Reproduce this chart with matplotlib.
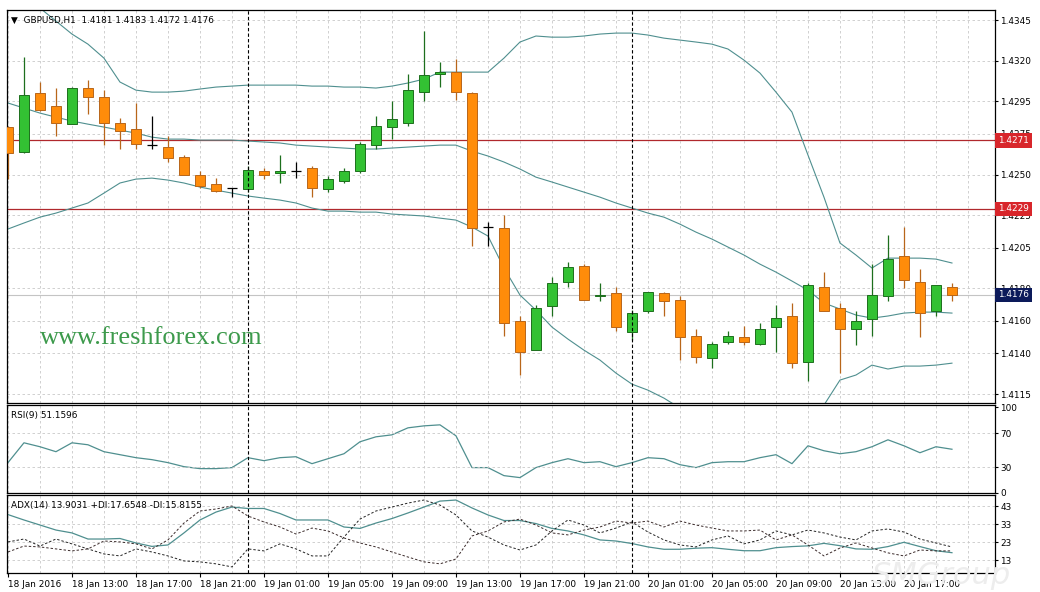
import matplotlib.pyplot as plt
from matplotlib.transforms import blended_transform_factory


# GBPUSD H1, 18 Jan 2016 09:00 .. 20 Jan 2016 20:00
opens = [1.4279, 1.4264, 1.4300, 1.4292, 1.4281, 1.4303, 1.4298, 1.4282, 1.4278, 1.4268,
         1.4267, 1.4261, 1.4250, 1.4244, 1.4242, 1.4241, 1.4252, 1.4251, 1.4252, 1.4254,
         1.4241, 1.4246, 1.4252, 1.4268, 1.4279, 1.4282, 1.4301, 1.4312, 1.4313, 1.4300,
         1.4218, 1.4217, 1.4160, 1.4142, 1.4169, 1.4184, 1.4194, 1.4175, 1.4177, 1.4153,
         1.4166, 1.4177, 1.4173, 1.4151, 1.4137, 1.4147, 1.4150, 1.4146, 1.4156, 1.4163,
         1.4135, 1.4181, 1.4168, 1.4155, 1.4161, 1.4175, 1.4200, 1.4184, 1.4166, 1.4181]
highs = [1.4280, 1.4322, 1.4307, 1.4303, 1.4304, 1.4308, 1.4302, 1.4285, 1.4294, 1.4286,
         1.4274, 1.4262, 1.4252, 1.4248, 1.4242, 1.4255, 1.4254, 1.4262, 1.4258, 1.4255,
         1.4249, 1.4254, 1.4270, 1.4286, 1.4295, 1.4312, 1.4338, 1.4319, 1.4321, 1.4301,
         1.4221, 1.4225, 1.4163, 1.4170, 1.4187, 1.4196, 1.4195, 1.4183, 1.4181, 1.4167,
         1.4178, 1.4178, 1.4175, 1.4155, 1.4147, 1.4154, 1.4157, 1.4159, 1.4170, 1.4171,
         1.4183, 1.4190, 1.4171, 1.4166, 1.4195, 1.4213, 1.4218, 1.4192, 1.4182, 1.4183]
lows = [1.4247, 1.4263, 1.4289, 1.4274, 1.4281, 1.4287, 1.4268, 1.4266, 1.4266, 1.4266,
        1.4258, 1.4250, 1.4242, 1.4239, 1.4236, 1.4239, 1.4247, 1.4245, 1.4248, 1.4236,
        1.4239, 1.4245, 1.4251, 1.4266, 1.4272, 1.4280, 1.4295, 1.4304, 1.4296, 1.4206,
        1.4206, 1.4151, 1.4127, 1.4142, 1.4163, 1.4181, 1.4173, 1.4172, 1.4154, 1.4148,
        1.4165, 1.4163, 1.4136, 1.4134, 1.4131, 1.4146, 1.4145, 1.4145, 1.4141, 1.4131,
        1.4123, 1.4166, 1.4128, 1.4145, 1.4151, 1.4172, 1.4180, 1.4150, 1.4163, 1.4172]
closes = [1.4263, 1.4299, 1.4290, 1.4282, 1.4303, 1.4298, 1.4282, 1.4277, 1.4269, 1.4268,
          1.4260, 1.4250, 1.4243, 1.4240, 1.4242, 1.4253, 1.4250, 1.4252, 1.4252, 1.4242,
          1.4247, 1.4252, 1.4269, 1.4280, 1.4284, 1.4302, 1.4311, 1.4313, 1.4301, 1.4217,
          1.4218, 1.4159, 1.4141, 1.4168, 1.4183, 1.4193, 1.4173, 1.4176, 1.4156, 1.4165,
          1.4178, 1.4172, 1.4150, 1.4138, 1.4146, 1.4151, 1.4147, 1.4155, 1.4162, 1.4134,
          1.4182, 1.4166, 1.4155, 1.4160, 1.4176, 1.4198, 1.4185, 1.4165, 1.4182, 1.4176]

# Bollinger bands
bb_upper = [1.43684, 1.43604, 1.43524, 1.43444, 1.43364, 1.43302, 1.43216, 1.43069, 1.43019, 1.43007,
            1.43007, 1.43013, 1.43026, 1.43038, 1.43044, 1.43050, 1.43050, 1.43050, 1.43050, 1.43044,
            1.43044, 1.43038, 1.43038, 1.43032, 1.43044, 1.43063, 1.43087, 1.43130, 1.43130, 1.43130,
            1.43130, 1.43216, 1.43315, 1.43352, 1.43345, 1.43345, 1.43352, 1.43364, 1.43370, 1.43370,
            1.43358, 1.43339, 1.43327, 1.43315, 1.43302, 1.43272, 1.43204, 1.43124, 1.43007, 1.42884,
            1.42620, 1.42361, 1.42079, 1.42005, 1.41925, 1.41986, 1.41986, 1.41986, 1.41980, 1.41956]
bb_middle = [1.42940, 1.42909, 1.42878, 1.42853, 1.42829, 1.42810, 1.42792, 1.42773, 1.42755, 1.42730,
             1.42718, 1.42718, 1.42712, 1.42712, 1.42712, 1.42706, 1.42700, 1.42694, 1.42681, 1.42675,
             1.42669, 1.42663, 1.42657, 1.42657, 1.42663, 1.42669, 1.42675, 1.42681, 1.42681, 1.42644,
             1.42614, 1.42577, 1.42534, 1.42484, 1.42454, 1.42423, 1.42392, 1.42361, 1.42325, 1.42294,
             1.42263, 1.42238, 1.42195, 1.42146, 1.42103, 1.42054, 1.42005, 1.41949, 1.41900, 1.41845,
             1.41789, 1.41710, 1.41673, 1.41636, 1.41617, 1.41630, 1.41648, 1.41654, 1.41654, 1.41648]
bb_lower = [1.42165, 1.42202, 1.42238, 1.42263, 1.42294, 1.42325, 1.42386, 1.42448, 1.42472, 1.42478,
            1.42466, 1.42448, 1.42423, 1.42404, 1.42386, 1.42368, 1.42355, 1.42343, 1.42325, 1.42294,
            1.42275, 1.42275, 1.42269, 1.42269, 1.42257, 1.42251, 1.42245, 1.42232, 1.42220, 1.42177,
            1.42122, 1.41925, 1.41759, 1.41666, 1.41562, 1.41488, 1.41420, 1.41359, 1.41279, 1.41211,
            1.41174, 1.41125, 1.41064, 1.41002, 1.40928, 1.40867, 1.40805, 1.40756, 1.40732, 1.40744,
            1.40805, 1.41082, 1.41236, 1.41267, 1.41328, 1.41304, 1.41322, 1.41322, 1.41328, 1.41340]

rsi = [35.5, 58.7, 54.1, 48.3, 58.7, 56.4, 48.3, 44.8, 41.3, 39.0,
       35.5, 30.8, 28.5, 28.5, 29.7, 41.3, 37.8, 41.3, 42.4, 34.3,
       40.1, 45.9, 59.9, 65.7, 68.0, 76.2, 78.5, 79.7, 66.9, 29.7,
       29.7, 20.3, 18.0, 29.7, 35.5, 40.1, 35.5, 36.6, 30.8, 35.5,
       41.3, 40.1, 33.1, 29.7, 35.5, 36.6, 36.6, 41.3, 44.8, 34.3,
       55.2, 49.4, 45.9, 48.3, 54.1, 62.2, 55.2, 47.1, 54.1, 51.16]

adx = [38.4, 35.4, 32.6, 29.8, 28.2, 24.8, 24.8, 25.1, 22.6, 20.7,
       21.5, 28.2, 35.4, 39.8, 42.6, 41.8, 41.8, 39.0, 35.4, 35.4,
       35.4, 31.5, 30.7, 33.7, 36.2, 39.3, 42.6, 45.9, 46.5, 42.1,
       38.2, 35.1, 35.1, 33.4, 30.7, 29.3, 27.1, 24.3, 23.7, 22.3,
       20.4, 19.1, 19.1, 19.7, 20.0, 19.1, 18.3, 18.3, 20.0, 20.6,
       21.0, 22.4, 21.1, 19.3, 19.1, 20.6, 23.0, 20.6, 18.3, 17.2]
plus_di = [23.2, 24.8, 20.9, 24.8, 22.1, 19.3, 16.5, 15.4, 19.3, 17.6,
           15.4, 12.6, 12.1, 11.0, 9.3, 19.3, 18.2, 22.1, 19.3, 15.4,
           15.4, 25.9, 35.9, 40.4, 42.6, 44.8, 46.5, 43.7, 38.2, 29.3,
           25.9, 21.5, 18.7, 21.5, 29.3, 35.4, 32.6, 28.2, 30.9, 34.3,
           28.7, 24.3, 21.5, 20.4, 24.3, 26.5, 22.1, 24.3, 29.3, 27.1,
           29.8, 28.2, 25.9, 24.3, 29.3, 30.4, 28.7, 24.8, 22.6, 20.4]
minus_di = [17.6, 20.9, 20.4, 19.3, 18.2, 19.3, 23.7, 23.2, 22.1, 19.3,
            24.3, 33.7, 40.4, 41.5, 43.2, 37.6, 34.3, 31.5, 27.6, 30.9,
            29.3, 25.4, 22.6, 20.4, 17.6, 14.8, 12.1, 11.0, 13.7, 26.5,
            29.3, 34.3, 35.9, 32.6, 28.2, 27.1, 29.8, 31.5, 34.8, 33.7,
            34.8, 31.5, 34.8, 32.6, 30.9, 29.3, 29.3, 29.8, 24.3, 27.1,
            21.5, 15.4, 19.8, 22.6, 19.8, 17.1, 15.4, 18.7, 18.2, 18.2]

level_lines = [1.4271, 1.4229]
last_price = 1.4176
price_ticks = [1.4345, 1.4320, 1.4295, 1.4275, 1.4250, 1.4225, 1.4205,
               1.4180, 1.4160, 1.4140, 1.4115]
time_labels = ['18 Jan 2016', '18 Jan 13:00', '18 Jan 17:00', '18 Jan 21:00',
               '19 Jan 01:00', '19 Jan 05:00', '19 Jan 09:00', '19 Jan 13:00',
               '19 Jan 17:00', '19 Jan 21:00', '20 Jan 01:00', '20 Jan 05:00',
               '20 Jan 09:00', '20 Jan 13:00', '20 Jan 17:00']
day_breaks = [15, 39]

BULL, BULL_EDGE = '#33c133', '#1d6f1d'
BEAR, BEAR_EDGE = '#ff8c0a', '#b8661a'
BAND = '#4f8f8f'
GRID = dict(color='#c9c9c9', linestyle=(0, (3, 3)), linewidth=0.6)
FS = 6.4


def style_panel(ax):
    ax.set_facecolor('white')
    for s in ax.spines.values():
        s.set_color('black')
        s.set_linewidth(0.9)
    ax.yaxis.tick_right()
    ax.tick_params(axis='y', labelsize=FS, length=2, pad=2, colors='black')
    ax.tick_params(axis='x', which='both', length=0, labelbottom=False)
    ax.grid(True, which='both', **GRID)
    for d in day_breaks:
        ax.axvline(d, color='black', linestyle=(0, (3, 2)), linewidth=0.8, zorder=4)


def draw_candles(ax):
    for i, (o, h, l, c) in enumerate(zip(opens, highs, lows, closes)):
        if c == o:
            ax.vlines(i, l, h, color='black', linewidth=0.9, zorder=3)
            ax.hlines(o, i - 0.33, i + 0.33, color='black', linewidth=0.9, zorder=3)
            continue
        face, edge = (BULL, BULL_EDGE) if c > o else (BEAR, BEAR_EDGE)
        ax.vlines(i, l, h, color=edge, linewidth=0.9, zorder=2)
        ax.bar(i, abs(c - o), 0.64, bottom=min(o, c), color=face,
               edgecolor=edge, linewidth=0.7, zorder=3)


fig = plt.figure(figsize=(10.4, 5.92), dpi=100)
fig.patch.set_facecolor('white')
fig.text(0.905, 0.028, 'SMGroup', fontsize=22, style='italic', color='#ededed',
         ha='center', va='center', zorder=0)

left, width = 7 / 1040, 988 / 1040
ax_p = fig.add_axes([left, 1 - 403 / 592, width, 393 / 592])
ax_r = fig.add_axes([left, 1 - 493 / 592, width, 88 / 592], sharex=ax_p)
ax_a = fig.add_axes([left, 1 - 573 / 592, width, 78 / 592], sharex=ax_p)
ax_p.set_xticks(range(0, 60, 4))
ax_p.set_xticks(range(0, 62, 2), minor=True)
for ax in (ax_p, ax_r, ax_a):
    style_panel(ax)

x = list(range(len(closes)))

# price panel
ax_p.plot(x, bb_upper, color=BAND, linewidth=0.8, zorder=2)
ax_p.plot(x, bb_middle, color=BAND, linewidth=0.8, zorder=2)
ax_p.plot(x, bb_lower, color=BAND, linewidth=0.8, zorder=2)
for lvl in level_lines:
    ax_p.axhline(lvl, color='#b0282d', linewidth=0.9, zorder=1)
ax_p.axhline(last_price, color='#c4c4c4', linewidth=0.8, zorder=1)
draw_candles(ax_p)
ax_p.set_xlim(-0.06, 61.69)
ax_p.set_ylim(1.41095, 1.43512)
ax_p.set_yticks(price_ticks)
ax_p.set_yticklabels([f'{t:.4f}' for t in price_ticks])

tr = blended_transform_factory(ax_p.transAxes, ax_p.transData)
for lvl in level_lines:
    ax_p.text(1.003, lvl, f'{lvl:.4f}', transform=tr, fontsize=FS, color='white',
              va='center', ha='left', zorder=6, clip_on=False,
              bbox=dict(boxstyle='square,pad=0.3', fc='#d8262b', ec='none'))
ax_p.text(1.003, last_price, f'{last_price:.4f}', transform=tr, fontsize=FS, color='white',
          va='center', ha='left', zorder=6, clip_on=False,
          bbox=dict(boxstyle='square,pad=0.3', fc='#0c1a5a', ec='none'))

ax_p.text(0.004, 0.985, '\u25bc  GBPUSD,H1  1.4181 1.4183 1.4172 1.4176',
          transform=ax_p.transAxes, fontsize=FS, va='top', ha='left', zorder=6)
ax_p.text(33 / 988, 0.165, 'www.freshforex.com', transform=ax_p.transAxes,
          family='Liberation Serif', fontsize=19, color='#3d9a4c', va='center', zorder=5)

# RSI panel
ax_r.plot(x, rsi, color=BAND, linewidth=0.9)
ax_r.set_ylim(0.6, 102.9)
ax_r.set_yticks([100, 70, 30, 0])
ax_r.grid(False, axis='y')
for lv in (70, 30):
    ax_r.axhline(lv, **GRID)
ax_r.text(0.004, 0.93, 'RSI(9) 51.1596',
          transform=ax_r.transAxes, fontsize=FS, va='top', ha='left')

# ADX panel
ax_a.plot(x, adx, color=BAND, linewidth=0.9)
ax_a.plot(x, plus_di, color='#222222', linewidth=0.7, linestyle=(0, (2.5, 2)))
ax_a.plot(x, minus_di, color='#3a2a2a', linewidth=0.7, linestyle=(0, (2.5, 2)))
ax_a.set_ylim(5.9, 49.3)
ax_a.set_yticks([43, 33, 23, 13])
ax_a.text(0.004, 0.92, 'ADX(14) 13.9031 +DI:17.6548 -DI:15.8155',
          transform=ax_a.transAxes, fontsize=FS, va='top', ha='left')

ax_a.tick_params(axis='x', which='major', length=3, labelbottom=True,
                 labelsize=FS, pad=2)
ax_a.set_xticklabels(time_labels, ha='left')

fig.savefig('out.png', dpi=100)
